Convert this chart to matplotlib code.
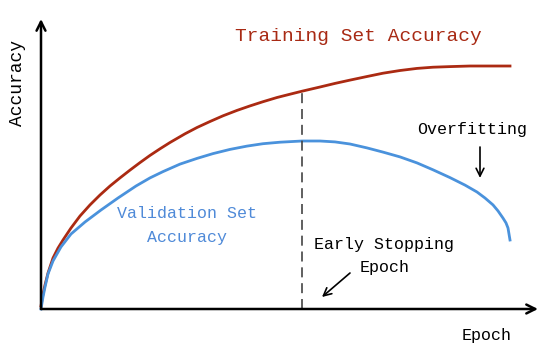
import matplotlib.pyplot as plt
import numpy as np

# curves (epoch, accuracy)
train_epoch = [0, 0.4, 0.8, 1.4, 2.4, 3.4, 4.4, 6.0, 7.8, 9.8, 11.8, 13.8, 15.8, 17.8,
               19.8, 21.8, 23.8, 25.8, 28.8, 31.2, 33.8, 36.4, 39.2, 41.8, 44.4, 47.2,
               49.8, 52.2, 55.8, 58.8, 61.8, 65.2, 68.4, 71.8, 75.2, 78.4, 81.8, 85.8,
               89.8, 93.8]
train_acc = [0.010, 0.050, 0.080, 0.120, 0.170, 0.203, 0.230, 0.270, 0.310, 0.347,
             0.380, 0.410, 0.437, 0.463, 0.488, 0.512, 0.534, 0.555, 0.584, 0.605,
             0.625, 0.644, 0.662, 0.677, 0.691, 0.705, 0.716, 0.726, 0.740, 0.752,
             0.763, 0.775, 0.786, 0.795, 0.802, 0.806, 0.808, 0.810, 0.810, 0.810]

val_epoch = [0, 0.2, 0.4, 0.8, 1.4, 2.4, 4.0, 6.0, 8.8, 12.0, 15.4, 19.0, 21.8, 24.4,
             27.8, 31.2, 34.4, 37.8, 41.2, 44.4, 47.8, 52.2, 55.8, 58.8, 61.8, 65.2,
             68.4, 71.8, 75.2, 78.4, 81.8, 84.8, 87.2, 88.8, 90.4, 91.4, 92.4, 93.0,
             93.4, 93.6, 93.8]
val_acc = [0.000, 0.020, 0.040, 0.073, 0.117, 0.160, 0.207, 0.250, 0.290, 0.330,
           0.370, 0.410, 0.437, 0.458, 0.483, 0.502, 0.518, 0.532, 0.543, 0.551,
           0.556, 0.560, 0.560, 0.557, 0.550, 0.537, 0.523, 0.507, 0.487, 0.464,
           0.438, 0.413, 0.390, 0.370, 0.347, 0.327, 0.303, 0.287, 0.270, 0.250, 0.230]

early_stop = 52.2

plt.rcParams['font.family'] = ['Liberation Mono', 'DejaVu Sans Mono']

fig = plt.figure(figsize=(5.5, 3.55), dpi=100)
ax = fig.add_axes([41/550, 46/355, 497/550, 290/355])
xmax, ymax = 99.4, 0.9667
ax.set_xlim(0, xmax)
ax.set_ylim(0, ymax)
ax.axis('off')

# axes with arrow heads
axis_arrow = dict(arrowstyle='->', lw=1.8, color='black', mutation_scale=16,
                  shrinkA=0, shrinkB=0)
ax.annotate('', xy=(xmax, 0), xytext=(0, 0), arrowprops=axis_arrow, annotation_clip=False)
ax.annotate('', xy=(0, ymax), xytext=(0, 0), arrowprops=axis_arrow, annotation_clip=False)

ax.plot(train_epoch, train_acc, color='#ab2a12', lw=2.0, clip_on=False)
ax.plot(val_epoch, val_acc, color='#4a92dc', lw=2.0, clip_on=False)
ax.plot([early_stop, early_stop], [0, np.interp(early_stop, train_epoch, train_acc)],
        color='#444444', lw=1.2, linestyle=(0, (6, 3.5)))

small_arrow = dict(arrowstyle='->', lw=1.2, color='black', mutation_scale=14,
                   shrinkA=0, shrinkB=0)
ax.text(63.4, 0.910, 'Training Set Accuracy', color='#a82a14', fontsize=14,
        ha='center', va='center')
ax.text(29.2, 0.280, 'Validation Set\nAccuracy', color='#4f8ad8', fontsize=12,
        ha='center', va='center', multialignment='center', linespacing=1.75)
ax.text(86.2, 0.60, 'Overfitting', color='black', fontsize=12, ha='center', va='center')
ax.annotate('', xy=(87.8, 0.437), xytext=(87.8, 0.54), arrowprops=small_arrow)
ax.text(68.7, 0.177, 'Early Stopping\nEpoch', color='black', fontsize=12,
        ha='center', va='center', multialignment='center', linespacing=1.7)
ax.annotate('', xy=(56.2, 0.04), xytext=(61.8, 0.12), arrowprops=small_arrow)

ax.text(89.2, -0.09, 'Epoch', fontsize=12, ha='center', va='center')
ax.text(-4.8, 0.753, 'Accuracy', fontsize=13, ha='center', va='center', rotation=90)

fig.savefig('out.png', dpi=100)
